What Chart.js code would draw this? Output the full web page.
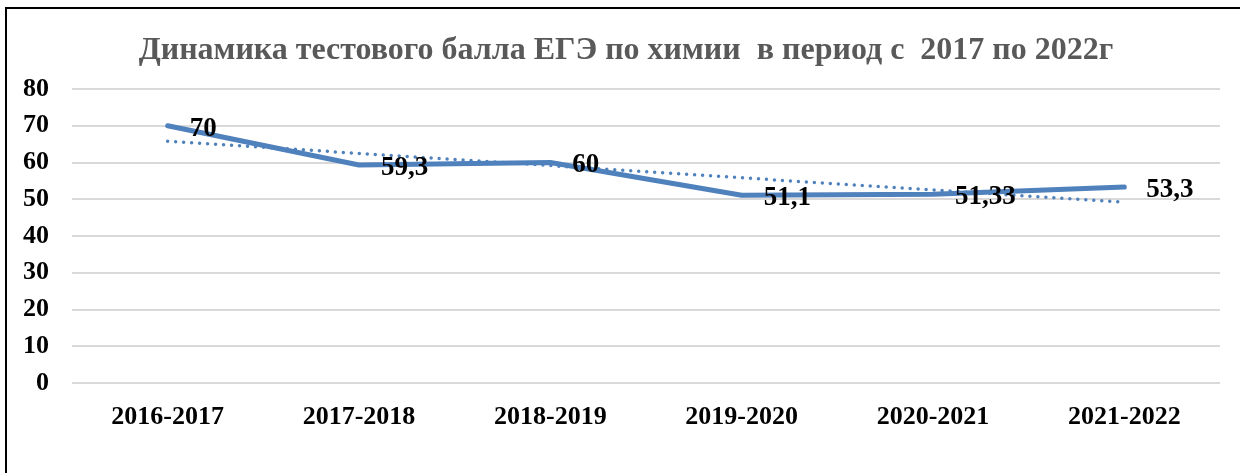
<!DOCTYPE html>
<html>
<head>
<meta charset="utf-8">
<script src="https://cdn.jsdelivr.net/npm/chart.js@4/dist/chart.umd.min.js"></script>
<style>
  html, body { margin: 0; padding: 0; background: #fff; }
  #wrap { position: relative; width: 1240px; height: 473px; overflow: hidden; }
  #frame { position: absolute; left: 5px; top: 7px; right: -10px; bottom: -10px;
           border-top: 2px solid #000; border-left: 2px solid #000; }
  canvas { position: absolute; left: 0; top: 0; }
</style>
</head>
<body>
<div id="wrap">
  <div id="frame"></div>
  <canvas id="chart" width="1240" height="473"></canvas>
</div>
<script>
// data
var years = ["2016-2017", "2017-2018", "2018-2019", "2019-2020", "2020-2021", "2021-2022"];
var scores = [70, 59.3, 60, 51.1, 51.33, 53.3];
// dotted trend line, ends
var trend = [65.8, null, null, null, null, 49.2];
var yTicks = [0, 10, 20, 30, 40, 50, 60, 70, 80];

var chartTitle = "Динамика тестового балла ЕГЭ по химии  в период с  2017 по 2022г";
var serif = "'Liberation Serif', 'Times New Roman', serif";

// title + point labels drawn by hand (no datalabels plugin here)
var extras = {
  id: 'extras',
  afterDraw: function(chart) {
    var ctx = chart.ctx;
    ctx.save();
    ctx.fillStyle = '#595959';
    ctx.font = 'bold 32px ' + serif;
    ctx.textAlign = 'center';
    ctx.textBaseline = 'middle';
    ctx.fillText(chartTitle, 626, 51);

    var meta = chart.getDatasetMeta(0);
    ctx.fillStyle = '#000';
    ctx.font = 'bold 27px ' + serif;
    ctx.textAlign = 'left';
    meta.data.forEach(function(pt, i) {
      var txt = String(scores[i]).replace('.', ',');
      ctx.fillText(txt, pt.x + 22, pt.y + 3);
    });
    ctx.restore();
  }
};

new Chart(document.getElementById('chart').getContext('2d'), {
  type: 'line',
  data: {
    labels: years,
    datasets: [
      {
        data: scores,
        borderColor: '#4f81bd',
        borderWidth: 5,
        borderCapStyle: 'round',
        borderJoinStyle: 'round',
        pointRadius: 0,
        tension: 0,
        order: 1
      },
      {
        data: trend,
        spanGaps: true,
        borderColor: '#4f81bd',
        borderWidth: 3.5,
        borderDash: [0, 8],
        borderCapStyle: 'round',
        pointRadius: 0,
        tension: 0,
        order: 0
      }
    ]
  },
  options: {
    responsive: false,
    animation: false,
    layout: { padding: { top: 89, right: 20, bottom: 0, left: 0 } },
    plugins: {
      legend: { display: false },
      title: { display: false },
      tooltip: { enabled: false }
    },
    scales: {
      x: {
        offset: true,
        grid: { display: false },
        border: { display: false },
        ticks: {
          color: '#000',
          padding: 11,
          maxRotation: 0,
          font: { family: serif, size: 26, weight: 'bold' }
        },
        afterFit: function(s) { s.height = 90; }
      },
      y: {
        min: 0,
        max: 80,
        afterBuildTicks: function(s) {
          s.ticks = yTicks.map(function(v) { return { value: v }; });
        },
        grid: { color: '#d9d9d9', lineWidth: 2, drawTicks: false },
        border: { display: false },
        ticks: {
          color: '#000',
          padding: 23,
          font: { family: serif, size: 26, weight: 'bold' }
        },
        afterFit: function(s) { s.width = 72; }
      }
    }
  },
  plugins: [extras]
});
</script>
</body>
</html>
